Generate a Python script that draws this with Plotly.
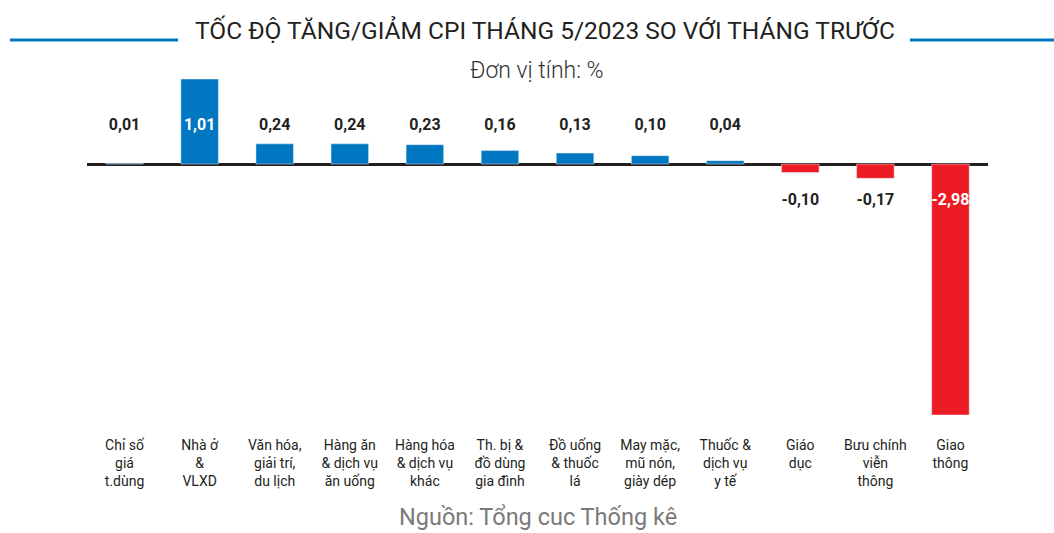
import plotly.graph_objects as go

categories = ["Chỉ số<br>giá<br>t.dùng", "Nhà ở<br>&<br>VLXD", "Văn hóa,<br>giải trí,<br>du lịch",
              "Hàng ăn<br>& dịch vụ<br>ăn uống", "Hàng hóa<br>& dịch vụ<br>khác", "Th. bị &<br>đồ dùng<br>gia đình",
              "Đồ uống<br>& thuốc<br>lá", "May mặc,<br>mũ nón,<br>giày dép", "Thuốc &<br>dịch vụ<br>y tế",
              "Giáo<br>dục", "Bưu chính<br>viễn<br>thông", "Giao<br>thông"]
values = [0.01, 1.01, 0.24, 0.24, 0.23, 0.16, 0.13, 0.10, 0.04, -0.10, -0.17, -2.98]

BLUE = "#0077c0"
RED = "#ed1c24"
DARK = "#231f20"
FONT = "Roboto, sans-serif"

x = list(range(len(values)))
colors = [BLUE if v >= 0 else RED for v in values]
labels = [f"{v:.2f}".replace(".", ",") for v in values]
label_y = [0.455 if v >= 0 else -0.44 for v in values]
label_col = ["white" if abs(v) > 0.5 else DARK for v in values]

W, H = 1054, 533
pl, pr, pt, pb = 87, 66, 79, 118
pw, ph = W - pl - pr, H - pt - pb
def px(xp): return (xp - pl) / pw
def py(yp): return (H - pb - yp) / ph

fig = go.Figure()
fig.add_trace(go.Bar(x=x, y=values, marker_color=colors, width=0.5, hoverinfo="skip"))
fig.add_trace(go.Scatter(x=x, y=label_y, mode="text", text=labels,
                         textfont=dict(family=FONT, size=16, color=label_col, weight="bold"),
                         hoverinfo="skip"))

fig.update_layout(
    width=W, height=H,
    margin=dict(l=pl, r=pr, t=pt, b=pb),
    paper_bgcolor="white", plot_bgcolor="white",
    showlegend=False,
    xaxis=dict(range=[-0.5, len(values) - 0.5], tickvals=x, ticktext=categories,
               showgrid=False, zeroline=False, showline=False, ticks="",
               tickfont=dict(family=FONT, size=14, color=DARK), ticklabelstandoff=20,
               fixedrange=True),
    yaxis=dict(range=[-2.98, 1.01], showgrid=False, showticklabels=False,
               zeroline=True, zerolinecolor=DARK, zerolinewidth=2.5, fixedrange=True),
    annotations=[
        dict(text="TỐC ĐỘ TĂNG/GIẢM CPI THÁNG 5/2023 SO VỚI THÁNG TRƯỚC", x=px(545), y=py(30),
             xref="paper", yref="paper", showarrow=False, yanchor="middle",
             font=dict(family=FONT, size=24.5, color=DARK)),
        dict(text="Đơn vị tính: %", x=px(537), y=py(70), xref="paper", yref="paper",
             showarrow=False, yanchor="middle",
             font=dict(family=FONT, size=23, color="#333333", weight=300)),
        dict(text="Nguồn: Tổng cuc Thống kê", x=px(538), y=py(517), xref="paper", yref="paper",
             showarrow=False, yanchor="middle",
             font=dict(family=FONT, size=23.5, color="#7a7a7a")),
    ],
    shapes=[
        dict(type="line", xref="paper", yref="paper", x0=px(10), x1=px(178), y0=py(40), y1=py(40),
             line=dict(color=BLUE, width=3)),
        dict(type="line", xref="paper", yref="paper", x0=px(910), x1=px(1054), y0=py(40), y1=py(40),
             line=dict(color=BLUE, width=3)),
    ],
)

fig.write_html("out.html", config={"displayModeBar": False},
               post_script="document.body.style.margin='0';document.body.style.overflow='hidden';")
